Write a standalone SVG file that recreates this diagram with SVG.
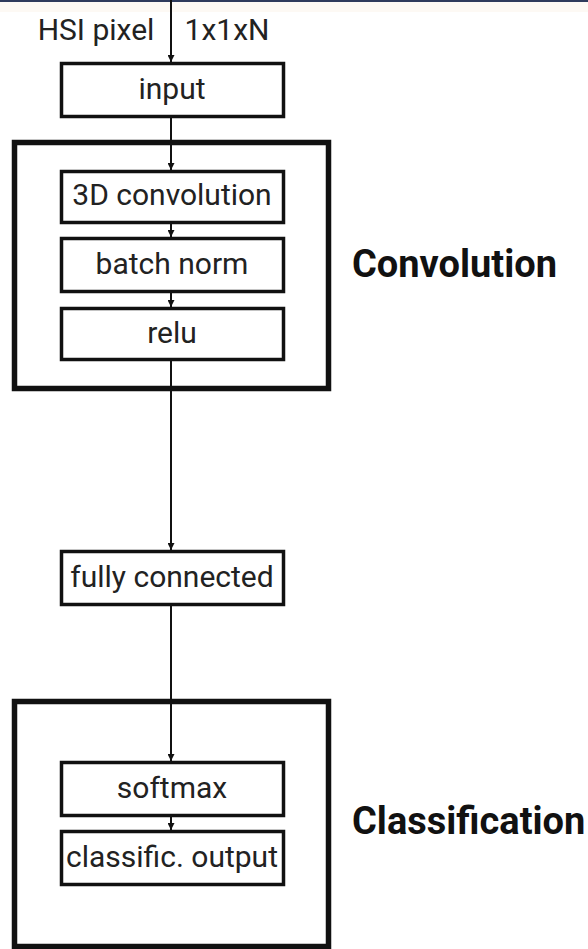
<svg xmlns="http://www.w3.org/2000/svg" width="588" height="949" viewBox="0 0 588 949">
<defs>
<marker id="ah" viewBox="0 0 10 10" refX="10" refY="5" markerWidth="3.5" markerHeight="3.5" markerUnits="strokeWidth" orient="auto">
<path d="M0,0 L10,5 L0,10 z" fill="#111"/>
</marker>
<style>
.box{fill:#fff;stroke:#111;stroke-width:3.5}
.grp{fill:none;stroke:#111;stroke-width:5.5}
.t{font-family:Roboto,"Liberation Sans",sans-serif;font-size:30px;fill:#222;text-anchor:middle}
.lbl{font-family:Roboto,"Liberation Sans",sans-serif;font-size:38px;font-weight:bold;fill:#111}
.c{stroke:#111;stroke-width:2;fill:none}
</style>
</defs>
<rect x="0" y="0" width="588" height="949" fill="#fff"/>
<rect x="0" y="2" width="588" height="10" fill="#fdf9f4"/>
<rect x="0" y="0" width="588" height="2" fill="#2e3b5c"/>

<g id="group-convolution">
<rect class="grp" x="14.5" y="142.5" width="314" height="246"/>
<text class="lbl" x="352" y="277">Convolution</text>
</g>
<g id="group-classification">
<rect class="grp" x="14.5" y="701.5" width="314" height="245"/>
<text class="lbl" x="352" y="834">Classification</text>
</g>

<g id="connectors">
<line class="c" x1="171" y1="0" x2="171" y2="62" marker-end="url(#ah)"/>
<line class="c" x1="171" y1="117" x2="171" y2="170" marker-end="url(#ah)"/>
<line class="c" x1="171" y1="223" x2="171" y2="237" marker-end="url(#ah)"/>
<line class="c" x1="171" y1="292" x2="171" y2="307" marker-end="url(#ah)"/>
<line class="c" x1="171" y1="360" x2="171" y2="550" marker-end="url(#ah)"/>
<line class="c" x1="171" y1="605" x2="171" y2="761" marker-end="url(#ah)"/>
<line class="c" x1="171" y1="816" x2="171" y2="830" marker-end="url(#ah)"/>
</g>

<g id="labels-input">
<text class="t" x="96" y="40">HSI pixel</text>
<text class="t" x="227" y="40">1x1xN</text>
</g>

<g id="node-input">
<rect class="box" x="61.5" y="63.5" width="222" height="53"/>
<text class="t" x="172" y="99">input</text>
</g>
<g id="node-conv3d">
<rect class="box" x="61.5" y="171.5" width="222" height="51"/>
<text class="t" x="172" y="205">3D convolution</text>
</g>
<g id="node-batchnorm">
<rect class="box" x="61.5" y="238.5" width="222" height="53"/>
<text class="t" x="172" y="274">batch norm</text>
</g>
<g id="node-relu">
<rect class="box" x="61.5" y="308.5" width="222" height="51"/>
<text class="t" x="172" y="343">relu</text>
</g>
<g id="node-fc">
<rect class="box" x="61.5" y="551.5" width="222" height="53"/>
<text class="t" x="172" y="587">fully connected</text>
</g>
<g id="node-softmax">
<rect class="box" x="61.5" y="762.5" width="222" height="53"/>
<text class="t" x="172" y="798">softmax</text>
</g>
<g id="node-output">
<rect class="box" x="61.5" y="831.5" width="222" height="53"/>
<text class="t" x="172" y="867">classific. output</text>
</g>
</svg>
